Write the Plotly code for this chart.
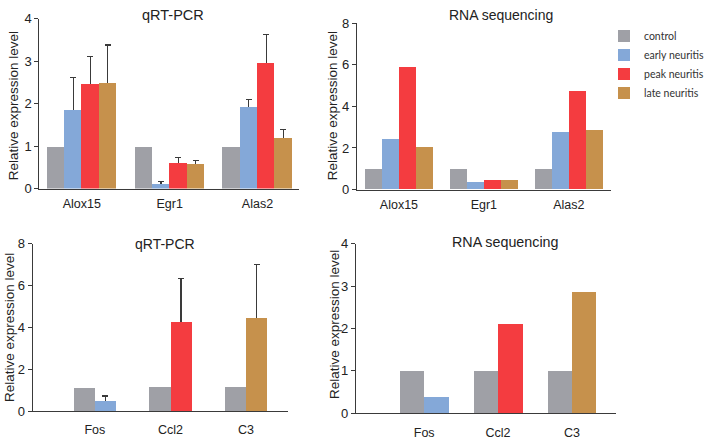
import plotly.graph_objects as go

W, H = 709, 440

genes_top = ["Alox15", "Egr1", "Alas2"]
genes_bottom = ["Fos", "Ccl2", "C3"]
series = ["control", "early neuritis", "peak neuritis", "late neuritis"]
colors = ["#9FA0A6", "#84A8D8", "#F43C40", "#C6914C"]

# qRT-PCR (top)
qpcr_top_control = [1.0, 1.0, 1.0]
qpcr_top_early = [1.87, 0.12, 1.94]
qpcr_top_peak = [2.48, 0.62, 2.97]
qpcr_top_late = [2.50, 0.58, 1.20]
qpcr_top_early_err = [0.74, 0.04, 0.16]
qpcr_top_peak_err = [0.63, 0.12, 0.66]
qpcr_top_late_err = [0.88, 0.09, 0.19]

# RNA sequencing (top)
rna_top_control = [1.0, 1.0, 1.0]
rna_top_early = [2.43, 0.34, 2.74]
rna_top_peak = [5.90, 0.47, 4.71]
rna_top_late = [2.06, 0.47, 2.85]

# qRT-PCR (bottom)
qpcr_bot_control = [1.12, 1.15, 1.15]
qpcr_bot_fos_early = [0.52]
qpcr_bot_fos_early_err = [0.20]
qpcr_bot_ccl2_peak = [4.25]
qpcr_bot_ccl2_peak_err = [2.08]
qpcr_bot_c3_late = [4.45]
qpcr_bot_c3_late_err = [2.54]

# RNA sequencing (bottom)
rna_bot_control = [1.0, 1.0, 1.0]
rna_bot_fos_early = [0.39]
rna_bot_ccl2_peak = [2.11]
rna_bot_c3_late = [2.88]

AX = "#3a3a3a"
TXT = "#222222"
FONT = "Liberation Sans, Arial, sans-serif"


def px_x(a, b):
    return [a / W, b / W]


def px_y(top, bottom):
    return [1 - bottom / H, 1 - top / H]


fig = go.Figure()


def add_err_carrier(x, y, e, xa, ya, w, off, dip):
    # transparent bar that only carries the error bar; the real bar drawn later hides its lower part
    fig.add_trace(go.Bar(
        x=x, y=y, width=w, offset=off, xaxis=xa, yaxis=ya, showlegend=False,
        marker=dict(color="rgba(0,0,0,0)", line=dict(width=0)), hoverinfo="skip",
        error_y=dict(type="data", array=e, arrayminus=[dip] * len(e), symmetric=False,
                     color=AX, thickness=1.2, width=3, visible=True),
    ))


def add_bar(x, y, idx, xa, ya, w, off, legend=False):
    fig.add_trace(go.Bar(
        x=x, y=y, name=series[idx], marker=dict(color=colors[idx], line=dict(width=0)),
        width=w, offset=off, xaxis=xa, yaxis=ya, showlegend=legend,
        legendgroup=series[idx],
    ))


w1 = 0.197
w2 = 0.201
w3 = 0.28
w4 = 0.33

# error-bar carriers (drawn first, underneath the real bars)
add_err_carrier(genes_top, qpcr_top_early, qpcr_top_early_err, "x", "y", w1, -w1, 0.08)
add_err_carrier(genes_top, qpcr_top_peak, qpcr_top_peak_err, "x", "y", w1, 0, 0.08)
add_err_carrier(genes_top, qpcr_top_late, qpcr_top_late_err, "x", "y", w1, w1, 0.08)
add_err_carrier(["Fos"], qpcr_bot_fos_early, qpcr_bot_fos_early_err, "x3", "y3", w3, 0, 0.15)
add_err_carrier(["Ccl2"], qpcr_bot_ccl2_peak, qpcr_bot_ccl2_peak_err, "x3", "y3", w3, 0, 0.15)
add_err_carrier(["C3"], qpcr_bot_c3_late, qpcr_bot_c3_late_err, "x3", "y3", w3, 0, 0.15)

# Panel 1: top-left qRT-PCR
add_bar(genes_top, qpcr_top_control, 0, "x", "y", w1, -2 * w1, legend=True)
add_bar(genes_top, qpcr_top_early, 1, "x", "y", w1, -w1, legend=True)
add_bar(genes_top, qpcr_top_peak, 2, "x", "y", w1, 0, legend=True)
add_bar(genes_top, qpcr_top_late, 3, "x", "y", w1, w1, legend=True)

# Panel 2: top-right RNA seq
add_bar(genes_top, rna_top_control, 0, "x2", "y2", w2, -2 * w2)
add_bar(genes_top, rna_top_early, 1, "x2", "y2", w2, -w2)
add_bar(genes_top, rna_top_peak, 2, "x2", "y2", w2, 0)
add_bar(genes_top, rna_top_late, 3, "x2", "y2", w2, w2)

# Panel 3: bottom-left qRT-PCR
add_bar(genes_bottom, qpcr_bot_control, 0, "x3", "y3", w3, -w3)
add_bar(["Fos"], qpcr_bot_fos_early, 1, "x3", "y3", w3, 0)
add_bar(["Ccl2"], qpcr_bot_ccl2_peak, 2, "x3", "y3", w3, 0)
add_bar(["C3"], qpcr_bot_c3_late, 3, "x3", "y3", w3, 0)

# Panel 4: bottom-right RNA seq
add_bar(genes_bottom, rna_bot_control, 0, "x4", "y4", w4, -w4)
add_bar(["Fos"], rna_bot_fos_early, 1, "x4", "y4", w4, 0)
add_bar(["Ccl2"], rna_bot_ccl2_peak, 2, "x4", "y4", w4, 0)
add_bar(["C3"], rna_bot_c3_late, 3, "x4", "y4", w4, 0)


def xaxis(dom, rng, anchor, cats, standoff):
    return dict(domain=dom, range=rng, anchor=anchor, type="category", categoryorder="array",
                categoryarray=cats, showline=True, linecolor=AX, linewidth=1.3, ticks="",
                ticklen=0, ticklabelstandoff=standoff, showgrid=False, zeroline=False,
                fixedrange=True, tickfont=dict(size=12.5, color=TXT, family=FONT))


def yaxis(dom, rng, anchor, dtick):
    return dict(domain=dom, range=rng, anchor=anchor, dtick=dtick, showline=True, linecolor=AX,
                linewidth=1.3, ticks="outside", ticklen=4, tickwidth=1.3, tickcolor=AX,
                showgrid=False, zeroline=False, fixedrange=True,
                tickfont=dict(size=13, color=TXT, family=FONT))


fig.update_layout(
    width=W, height=H, margin=dict(l=0, r=0, t=0, b=0),
    paper_bgcolor="white", plot_bgcolor="white",
    barmode="overlay", bargap=0,
    font=dict(family=FONT, color=TXT),
    xaxis=xaxis(px_x(40, 303), [-0.483, 2.47], "y", genes_top, 3),
    yaxis=yaxis(px_y(12, 188), [0, 4], "x", 1),
    xaxis2=xaxis(px_x(362, 620), [-0.495, 2.5], "y2", genes_top, 3),
    yaxis2=yaxis(px_y(16.7, 189), [0, 8], "x2", 2),
    xaxis3=xaxis(px_x(33.3, 291.7), [-0.82, 2.55], "y3", genes_bottom, 7),
    yaxis3=yaxis(px_y(245, 418.3), [0, 8], "x3", 2),
    xaxis4=xaxis(px_x(361, 625), [-0.925, 2.6], "y4", genes_bottom, 7),
    yaxis4=yaxis(px_y(245, 420.7), [0, 4], "x4", 1),
    legend=dict(x=613 / W, y=1 - 15 / H, xanchor="left", yanchor="top",
                font=dict(family="Lato, Open Sans, sans-serif", size=10.5, color="#333"),
                itemwidth=30, tracegroupgap=0, bgcolor="rgba(0,0,0,0)"),
)

annots = [
    dict(text="qRT-PCR", x=175 / W, y=1 - 8 / H, size=14.5),
    dict(text="RNA sequencing", x=508 / W, y=1 - 8 / H, size=14),
    dict(text="qRT-PCR", x=167 / W, y=1 - 245 / H, size=14),
    dict(text="RNA sequencing", x=513 / W, y=1 - 243 / H, size=14.3),
]
for a in annots:
    fig.add_annotation(text=a["text"], x=a["x"], y=a["y"], xref="paper", yref="paper",
                       xanchor="center", yanchor="middle", showarrow=False,
                       font=dict(size=a["size"], color=TXT, family=FONT))

ytitles = [(14, 102), (337.5, 102), (9.5, 332), (340, 329)]
for (xp, yp) in ytitles:
    fig.add_annotation(text="Relative expression level", x=xp / W, y=1 - yp / H,
                       xref="paper", yref="paper", xanchor="center", yanchor="middle",
                       textangle=-90, showarrow=False,
                       font=dict(size=13.5, color=TXT, family=FONT))

fig.write_html("out.html", config={"displayModeBar": False},
               post_script="document.body.style.margin='0';")
